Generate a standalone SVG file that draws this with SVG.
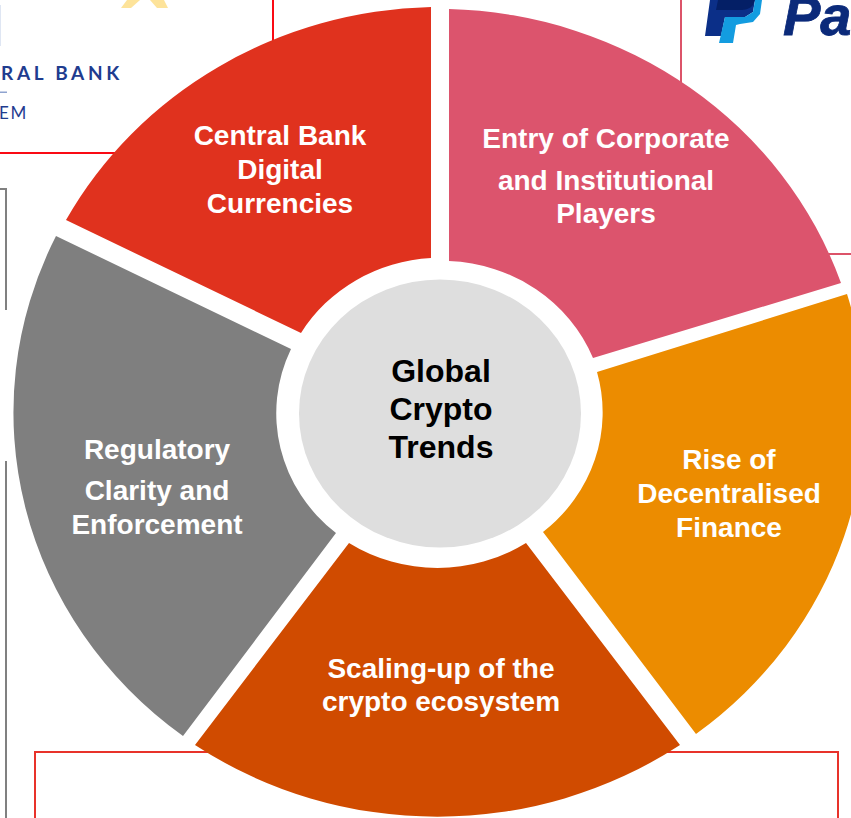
<svg xmlns="http://www.w3.org/2000/svg" width="851" height="818" viewBox="0 0 851 818">
<style>
.seg{stroke:none}
.frame{fill:none;stroke-width:2}
.lbl{font-family:"Liberation Sans",Arial,sans-serif;font-weight:700;font-size:28px;fill:#fff;text-anchor:middle}
.ctr{font-family:"Liberation Sans",Arial,sans-serif;font-weight:700;font-size:32px;fill:#000;text-anchor:middle}
.logo{font-family:"Lato","Open Sans",sans-serif;fill:#1f3c8f}
</style>
<rect width="851" height="818" fill="#fff"/>
<g id="background">
<path class="frame" stroke="#fa0a14" d="M273 0V45M0 153H120"/>
<path class="frame" stroke="#dc5369" d="M681 0V85M825 254H851"/>
<path class="frame" stroke="#808080" d="M0 189H6V310M6 461V818"/>
<path class="frame" stroke="#e8322a" d="M35 818V752H838V818"/>
<rect x="0" y="5" width="1" height="41" fill="#dfe6f3"/>
<path d="M121 8L127 0H140L131 8ZM150 0H164L168 8H157Z" fill="#fde39a"/>
<text class="logo" x="1" y="80" font-size="19" letter-spacing="3.700" font-weight="700">RAL BANK</text>
<rect x="0" y="91.500" width="7" height="1.500" fill="#8fa3cf"/>
<text class="logo" x="-1" y="119" font-size="17" letter-spacing="1.800" font-weight="400">EM</text>
<path d="M710 0H755L753 12L745 17H725L721 36H705Z" fill="#0b2f88"/>
<path d="M718 0H755L753 5C750 9 745 10 740 10H716Z" fill="#041f66"/>
<path d="M725 17H745L753 12L755 0H762L760 14L753 22L740 24L736 25L733 43H719Z" fill="#139ce0"/>
<text x="783" y="35" font-family="'Liberation Sans',Arial,sans-serif" font-size="56" font-weight="700" font-style="italic" fill="#0b2a7a" stroke="#0b2a7a" stroke-width="0.800">Pa</text>
</g>
<g id="connectors"></g>
<g id="node-cbdc">
<path class="seg" fill="#e0321e" d="M431 7A427 405.500 0 0 0 66 220L301 333A162.500 154.500 0 0 1 431 258Z"/>
<text class="lbl"><tspan x="280" y="145">Central Bank</tspan><tspan x="280" y="179">Digital</tspan><tspan x="280" y="213">Currencies</tspan></text>
</g>
<g id="node-corporate">
<path class="seg" fill="#dc546d" d="M449 9A427 405.500 0 0 1 841 283L593 358A162.500 154.500 0 0 0 449 261Z"/>
<text class="lbl"><tspan x="606" y="148">Entry of Corporate</tspan><tspan x="606" y="190">and Institutional</tspan><tspan x="606" y="223">Players</tspan></text>
</g>
<g id="node-defi">
<path class="seg" fill="#ec8c00" d="M847 294A427 405.500 0 0 1 696 734L543 532A162.500 154.500 0 0 0 597 372Z"/>
<text class="lbl"><tspan x="729" y="469">Rise of</tspan><tspan x="729" y="503">Decentralised</tspan><tspan x="729" y="537">Finance</tspan></text>
</g>
<g id="node-scaling">
<path class="seg" fill="#d04b00" d="M680 745A427 405.500 0 0 1 195 745L349 543A162.500 154.500 0 0 0 526 543Z"/>
<text class="lbl"><tspan x="441" y="678">Scaling-up of the</tspan><tspan x="441" y="711">crypto ecosystem</tspan></text>
</g>
<g id="node-regulatory">
<path class="seg" fill="#7f7f7f" d="M183 736A427 405.500 0 0 1 56 236L291 349A162.500 154.500 0 0 0 336 533Z"/>
<text class="lbl"><tspan x="157" y="459">Regulatory</tspan><tspan x="157" y="500">Clarity and</tspan><tspan x="157" y="534">Enforcement</tspan></text>
</g>
<g id="node-center">
<ellipse cx="440" cy="413.500" rx="141" ry="134" fill="#dedede"/>
<text class="ctr"><tspan x="441" y="382">Global</tspan><tspan x="441" y="420">Crypto</tspan><tspan x="441" y="458">Trends</tspan></text>
</g>
</svg>
